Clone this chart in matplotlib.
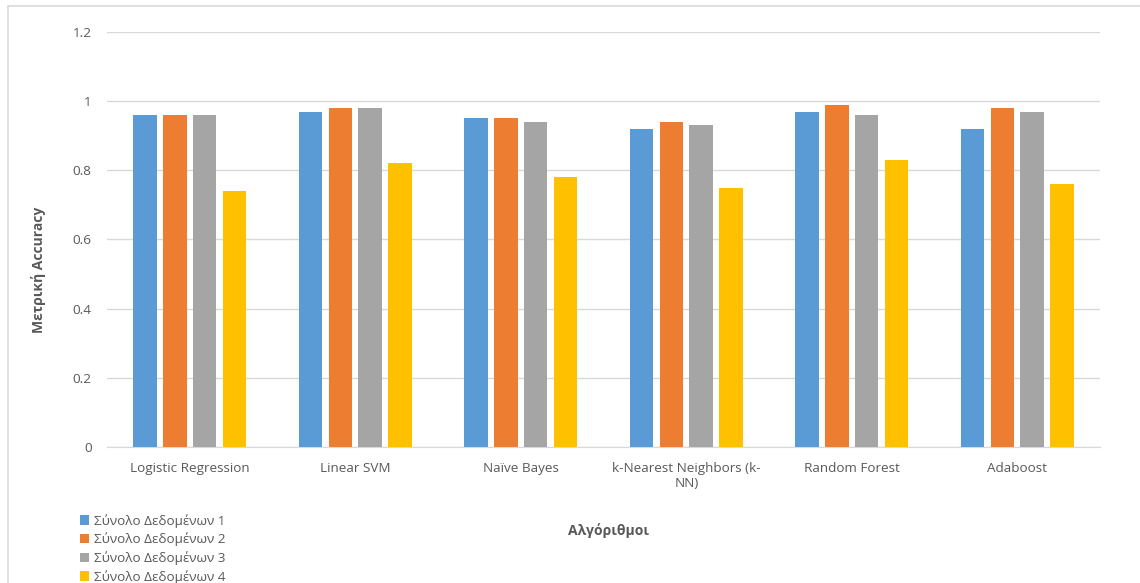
import matplotlib
matplotlib.use("Agg")
import matplotlib.pyplot as plt
import numpy as np
from matplotlib.patches import Rectangle
from matplotlib.ticker import FuncFormatter

plt.rcParams['font.family'] = ['Open Sans', 'DejaVu Sans']

algorithms = ["Logistic Regression", "Linear SVM", "Naïve Bayes",
              "k-Nearest Neighbors (k-\nNN)", "Random Forest", "Adaboost"]
series_names = ["Σύνολο Δεδομένων 1", "Σύνολο Δεδομένων 2",
                "Σύνολο Δεδομένων 3", "Σύνολο Δεδομένων 4"]
dataset1 = [0.96, 0.97, 0.95, 0.92, 0.97, 0.92]
dataset2 = [0.96, 0.98, 0.95, 0.94, 0.99, 0.98]
dataset3 = [0.96, 0.98, 0.94, 0.93, 0.96, 0.97]
dataset4 = [0.74, 0.82, 0.78, 0.75, 0.83, 0.76]
colors = ["#5b9bd5", "#ed7d31", "#a5a5a5", "#ffc000"]
y_ticks = [0, 0.2, 0.4, 0.6, 0.8, 1.0, 1.2]

W, H = 1140, 583
fig = plt.figure(figsize=(W / 100, H / 100), dpi=100)
ax = fig.add_axes([107 / W, 1 - 447 / H, (1100 - 107) / W, (447 - 32) / H])

# chart-area frame
fig.patches.append(Rectangle((8 / W, -0.1), 1.2, 1 - 6.5 / H + 0.1,
                             transform=fig.transFigure, fill=False,
                             edgecolor="#d9d9d9", linewidth=1.2, zorder=0))

x = np.arange(len(algorithms))
step = 0.18
width = 0.142
for i, (vals, name, c) in enumerate(zip([dataset1, dataset2, dataset3, dataset4],
                                        series_names, colors)):
    ax.bar(x + (i - 1.5) * step, vals, width=width, color=c, label=name, zorder=3)

ax.set_xlim(-0.5, len(algorithms) - 0.5)
ax.set_ylim(0, 1.2)
ax.set_yticks(y_ticks)
ax.yaxis.set_major_formatter(FuncFormatter(lambda v, p: f"{v:g}"))
ax.set_xticks(x)
ax.set_xticklabels(algorithms)
ax.grid(axis="y", color="#d9d9d9", linewidth=1, zorder=0)
ax.set_axisbelow(True)
for s in ["left", "right", "top"]:
    ax.spines[s].set_visible(False)
ax.spines["bottom"].set_color("#d9d9d9")
ax.tick_params(axis="both", length=0, labelsize=9.7, colors="#595959")
ax.tick_params(axis="x", pad=11)
ax.tick_params(axis="y", pad=11)

fig.text(38 / W, 1 - 270 / H, "Μετρική Accuracy", rotation=90, ha="center",
         va="center", fontsize=10, fontweight="bold", color="#595959")
fig.text(608 / W, 1 - 531 / H, "Αλγόριθμοι", ha="center", va="center",
         fontsize=10, fontweight="bold", color="#595959")

leg = fig.legend(loc="upper left", bbox_to_anchor=(73 / W, 1 - 507 / H),
                 frameon=False, fontsize=9.7, labelcolor="#595959",
                 handlelength=0.7, handleheight=0.7, handletextpad=0.35,
                 labelspacing=0.36, borderpad=0)

fig.savefig("out.png", dpi=100)
